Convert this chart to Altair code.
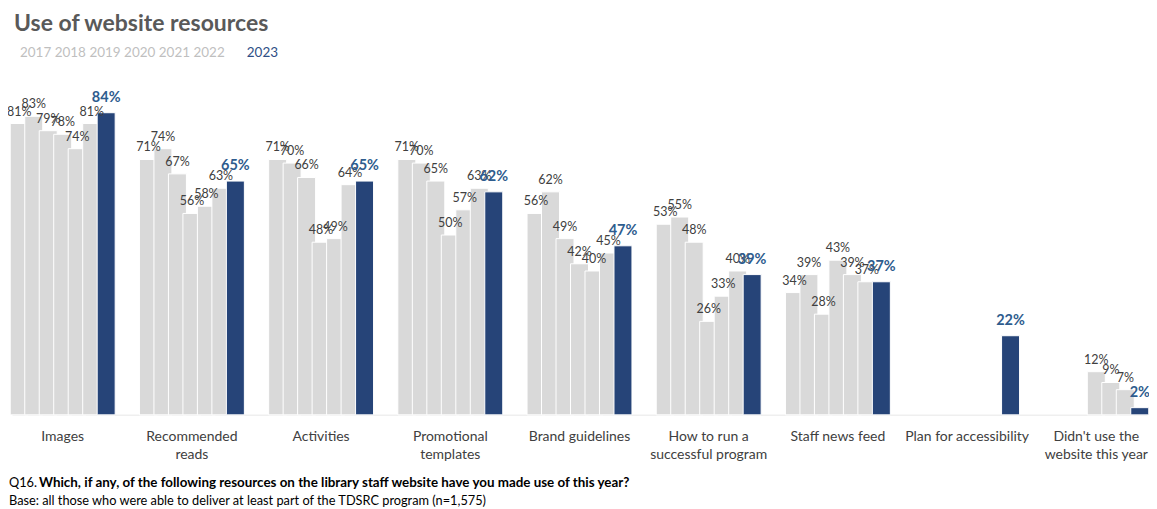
import altair as alt
import pandas as pd

categories = [
    "Images",
    "Recommended\nreads",
    "Activities",
    "Promotional\ntemplates",
    "Brand guidelines",
    "How to run a\nsuccessful program",
    "Staff news feed",
    "Plan for accessibility",
    "Didn't use the\nwebsite this year",
]
years = ["2017", "2018", "2019", "2020", "2021", "2022", "2023"]

v2017 = [81, 71, 71, 71, 56, 53, 34, None, None]
v2018 = [83, 74, 70, 70, 62, 55, 39, None, None]
v2019 = [79, 67, 66, 65, 49, 48, 28, None, None]
v2020 = [78, 56, 48, 50, 42, 26, 43, None, 12]
v2021 = [74, 58, 49, 57, 40, 33, 39, None, 9]
v2022 = [81, 63, 64, 63, 45, 40, 37, None, 7]
v2023 = [84, 65, 65, 62, 47, 39, 37, 22, 2]

series = [v2017, v2018, v2019, v2020, v2021, v2022, v2023]

rows = []
for yr, vals in zip(years, series):
    for cat, v in zip(categories, vals):
        if v is not None:
            rows.append({"category": cat, "year": yr, "value": v,
                         "label": f"{v}%", "current": yr == "2023"})
df = pd.DataFrame(rows)

GREY = "#D9D9D9"
BLUE = "#264478"
BLUE_TXT = "#2E5C8E"
FONT = "Lato"

x_enc = alt.X("category:N", sort=categories,
              scale=alt.Scale(paddingInner=0.215, paddingOuter=0.0),
              axis=alt.Axis(title=None, ticks=False, domain=True,
                            domainColor="#EFEFEF", domainWidth=1.5,
                            labelAngle=0, labelFont=FONT, labelFontSize=14,
                            labelColor="#404040", labelPadding=15,
                            labelLineHeight=18, labelLimit=220,
                            labelExpr="split(datum.label, '\\n')"))
xo_enc = alt.XOffset("year:N", sort=years,
                     scale=alt.Scale(paddingInner=0, paddingOuter=0))
y_enc = alt.Y("value:Q", scale=alt.Scale(domain=[0, 100]), axis=None)

base = alt.Chart(df).encode(x=x_enc, xOffset=xo_enc, y=y_enc)

bars = base.mark_bar(width=18, stroke="white", strokeWidth=1).encode(
    color=alt.condition("datum.current", alt.value(BLUE), alt.value(GREY))
)

grey_labels = base.transform_filter("!datum.current").mark_text(
    font=FONT, fontSize=12.5, color="#404040", dy=-12
).encode(text="label:N")

blue_labels = base.transform_filter("datum.current").mark_text(
    font=FONT, fontSize=14.5, fontWeight="bold", color=BLUE_TXT, dy=-15
).encode(text="label:N")

# header / footer text
title = alt.Chart(pd.DataFrame([{"t": "Use of website resources"}])).mark_text(
    font=FONT, fontSize=23, fontWeight="bold", color="#595959",
    align="left", baseline="alphabetic"
).encode(text="t:N", x=alt.value(2), y=alt.value(-24))

legend_grey = alt.Chart(pd.DataFrame([{"t": " ".join(years[:-1])}])).mark_text(
    font=FONT, fontSize=13.5, color="#BFBFBF", align="left", baseline="middle"
).encode(text="t:N", x=alt.value(8), y=alt.value(-2))

legend_blue = alt.Chart(pd.DataFrame([{"t": years[-1]}])).mark_text(
    font=FONT, fontSize=13.5, color="#2F4F86", align="left", baseline="middle"
).encode(text="t:N", x=alt.value(235), y=alt.value(-2))

foot1a = alt.Chart(pd.DataFrame([{"t": "Q16."}])).mark_text(
    font=FONT, fontSize=12.8, color="#000000", align="left", baseline="middle"
).encode(text="t:N", x=alt.value(-3), y=alt.value(428))

foot1b = alt.Chart(pd.DataFrame([{"t": "Which, if any, of the following resources  on the library staff website have you made use of this year?"}])).mark_text(
    font=FONT, fontSize=13.4, fontWeight="bold", color="#000000", align="left", baseline="middle"
).encode(text="t:N", x=alt.value(27), y=alt.value(428))

foot2 = alt.Chart(pd.DataFrame([{"t": "Base: all those who were able to deliver at least part of the TDSRC program (n=1,575)"}])).mark_text(
    font=FONT, fontSize=12.8, color="#000000", align="left", baseline="middle"
).encode(text="t:N", x=alt.value(-3), y=alt.value(446))

chart = alt.layer(
    bars, grey_labels, blue_labels, title, legend_grey, legend_blue,
    foot1a, foot1b, foot2
).properties(
    width=1136, height=360,
    autosize=alt.AutoSizeParams(type="none"),
    padding={"left": 4, "top": 47, "right": 2, "bottom": 94},
).configure(background="white").configure_view(stroke=None)

chart.save("out.html", embed_options={"renderer": "svg", "actions": False})
